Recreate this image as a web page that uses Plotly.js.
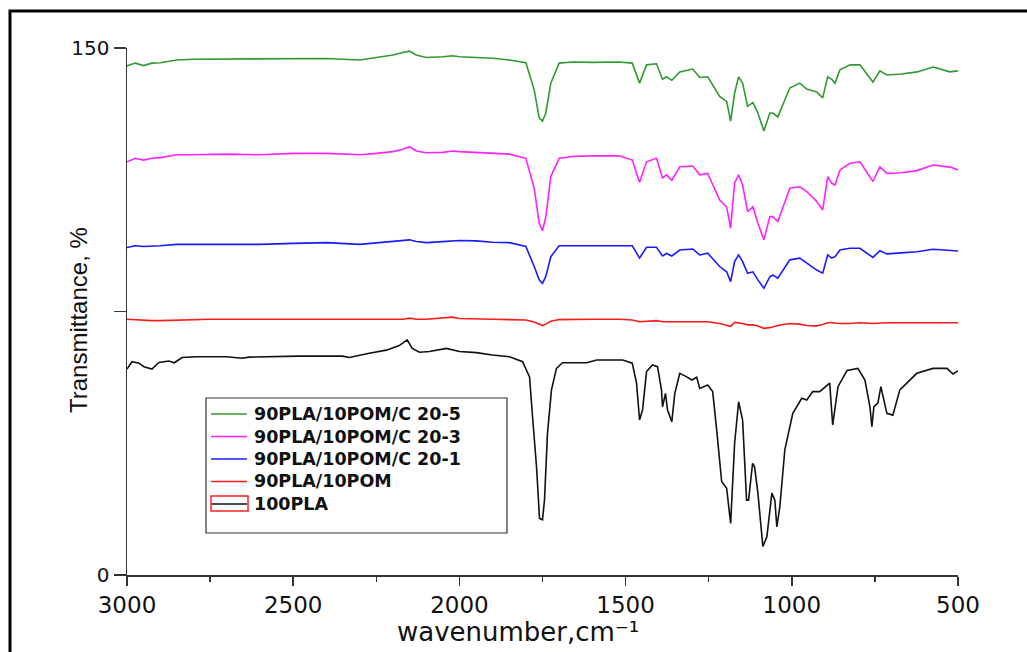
<!DOCTYPE html>
<html>
<head>
<meta charset="utf-8">
<script src="https://cdn.plot.ly/plotly-3.0.1.min.js"></script>
<style>
html,body{margin:0;padding:0;background:#fff;}
#chart{width:1027px;height:652px;}
</style>
</head>
<body>
<div id="chart"></div>
<script>
// Shared wavenumber grid (cm^-1) for the four blend spectra
const wavenumber = [3000,2975,2950,2925,2900,2850,2800,2750,2700,2600,2500,2400,2300,2250,2200,2170,2150,2130,2100,2050,2020,2000,1950,1900,1850,1800,1775,1760,1750,1740,1725,1700,1660,1600,1520,1480,1458,1437,1407,1389,1377,1361,1337,1298,1277,1253,1217,1196,1184,1172,1160,1148,1133,1117,1102,1084,1066,1057,1042,1006,976,955,925,907,892,880,870,855,825,795,756,735,714,670,623,575,524,500];

const pomC20_5 = [144.9,145.7,145.0,145.7,145.8,146.6,146.8,146.8,146.8,146.8,146.8,147.0,146.6,147.2,148.0,148.7,149.1,148.0,147.3,147.5,147.8,147.5,147.4,147.1,146.6,145.8,138.1,130.1,129.2,131.5,140.0,145.7,146.0,145.9,146.0,145.7,140.0,145.2,145.5,141.1,141.8,140.8,143.2,144.0,141.6,141.8,136.2,134.8,129.2,137.2,141.8,140.0,133.4,134.5,131.5,126.4,131.5,131.5,130.4,138.6,140.0,138.3,137.5,135.8,141.8,141.1,140.0,143.8,145.2,145.2,140.3,143.5,142.3,142.6,143.2,144.6,143.2,143.5];

const pomC20_3 = [117.6,118.6,118.1,118.6,118.8,119.6,119.6,119.8,119.8,119.6,120.0,120.0,119.6,120.0,120.5,121.2,121.9,120.7,120.2,120.3,120.7,120.5,120.3,120.0,119.8,118.6,110.0,100.2,98.0,101.9,113.4,118.6,119.1,119.3,119.3,118.1,111.8,117.6,118.6,113.0,113.9,112.4,116.2,116.4,113.9,114.3,106.7,104.8,98.7,111.6,113.9,111.0,103.4,104.8,100.1,95.4,102.0,102.0,100.6,110.1,110.5,109.1,106.3,103.9,113.4,111.5,111.0,115.3,117.2,117.6,112.0,116.2,114.3,114.5,115.1,116.7,116.1,115.3];

const pomC20_1 = [93.2,93.7,93.5,93.5,93.7,94.1,94.1,94.3,94.1,94.1,94.4,94.6,94.1,94.6,94.9,95.4,95.4,94.9,94.6,94.9,95.2,95.2,95.1,94.7,94.6,93.5,87.8,84.0,83.0,85.0,90.6,93.7,93.7,93.7,93.7,93.7,90.2,93.3,93.3,90.8,91.5,90.8,92.5,92.8,91.1,91.6,87.8,86.3,83.5,89.2,91.1,89.2,85.9,86.3,84.0,81.6,84.9,85.4,84.5,89.7,90.2,88.7,86.8,85.9,91.1,90.2,90.6,92.5,93.0,93.0,90.4,92.3,91.4,91.7,92.0,92.7,92.4,92.2];

const pla90pom10 = [72.8,72.6,72.4,72.4,72.4,72.6,72.8,72.8,72.8,72.8,72.8,72.8,72.8,72.8,72.8,72.8,73.1,72.8,72.8,73.3,73.4,73.0,72.8,72.8,72.7,72.6,72.0,71.3,71.0,71.4,72.2,72.7,72.8,72.8,72.8,72.6,72.1,72.3,72.4,72.1,72.1,72.2,72.0,72.0,72.1,72.1,71.6,71.0,70.8,71.9,71.8,71.6,71.2,71.2,70.9,70.2,70.4,70.7,71.0,71.6,71.4,71.0,70.9,71.3,71.8,71.8,71.7,71.6,71.6,71.8,71.6,71.8,71.8,71.8,71.8,71.8,71.8,71.8];

// Neat PLA spectrum (own wavenumber grid, more detail)
const wavenumberPLA = [3000,2985,2964,2949,2925,2904,2874,2858,2834,2792,2700,2654,2633,2482,2352,2331,2271,2220,2181,2157,2142,2120,2090,2039,2000,1949,1901,1849,1810,1789,1780,1768,1759,1750,1744,1735,1723,1708,1690,1617,1587,1509,1480,1467,1458,1449,1437,1419,1404,1392,1389,1380,1374,1361,1352,1337,1316,1301,1286,1277,1253,1238,1226,1211,1196,1184,1172,1160,1148,1136,1130,1118,1112,1102,1087,1075,1060,1051,1045,1036,1021,997,970,955,937,916,886,880,877,861,834,801,780,765,759,753,741,732,726,714,696,675,624,575,533,515,500];
const pla100 = [58.6,60.7,60.3,59.3,58.6,60.5,60.9,60.4,61.9,62.1,62.1,61.7,62.0,62.3,62.3,61.9,63.1,64.0,65.3,66.9,64.5,63.4,63.6,64.5,63.6,63.3,62.6,62.1,60.7,56.4,45.1,30.8,16.1,15.7,21.3,40.3,52.7,58.8,60.4,60.4,61.2,61.2,60.3,54.6,44.1,47.0,57.9,59.8,59.3,52.7,47.9,51.7,47.0,43.6,51.7,57.4,56.4,55.5,56.3,53.1,54.1,52.2,41.3,26.6,24.7,14.7,37.5,49.3,44.1,21.3,21.3,31.8,30.8,23.3,8.1,10.9,23.3,21.3,13.7,19.4,35.6,46.0,50.3,49.8,52.2,52.2,54.6,44.1,42.7,53.6,58.2,58.8,55.5,47.9,42.2,47.9,48.9,53.6,50.8,46.0,45.5,52.7,57.4,58.8,58.8,57.2,58.1];

const seriesNames = ['90PLA/10POM/C 20-5','90PLA/10POM/C 20-3','90PLA/10POM/C 20-1','90PLA/10POM','100PLA'];
const seriesColors = ['#2f9a2f','#ff22ff','#1a1aff','#ff1a1a','#111111'];
const yTickVals = [0, 150];
const yMinorTickVals = [75];
const xTickVals = [3000, 2500, 2000, 1500, 1000, 500];

// plot area in pixels (for decorations)
const W = 1027, H = 652, L = 127, R = 958, T = 48, B = 575;
const px = x => (x - L) / (R - L);
const py = y => (B - y) / (B - T);

const ys = [pomC20_5, pomC20_3, pomC20_1, pla90pom10];
const traces = ys.map((y, i) => ({
  x: wavenumber, y: y, type: 'scatter', mode: 'lines', name: seriesNames[i],
  line: {color: seriesColors[i], width: 1.6}
}));
traces.push({x: wavenumberPLA, y: pla100, type: 'scatter', mode: 'lines', name: seriesNames[4],
  line: {color: seriesColors[4], width: 1.6}});

// legend box drawn as layout decorations
const legTop = 398, legLeft = 206, legRight = 507, legBottom = 533;
const legRow0 = 414, legRowStep = 22.5;
const shapes = [
  {type: 'rect', xref: 'paper', yref: 'paper', x0: px(10), x1: px(1035), y0: py(660), y1: py(11),
   line: {color: '#000', width: 3}, fillcolor: 'rgba(0,0,0,0)'},
  {type: 'rect', xref: 'paper', yref: 'paper', x0: px(legLeft), x1: px(legRight), y0: py(legBottom), y1: py(legTop),
   line: {color: '#333', width: 1.2}, fillcolor: 'rgba(0,0,0,0)'}
];
const annotations = [
  {text: 'Transmittance, %', xref: 'paper', yref: 'paper', x: px(78), y: py(320), textangle: -90,
   xanchor: 'center', yanchor: 'middle', showarrow: false,
   font: {family: 'Liberation Sans, Arial', size: 24, color: '#111'}},
  {text: 'wavenumber,cm\u207B\u00B9', xref: 'paper', yref: 'paper', x: px(518), y: py(632),
   xanchor: 'center', yanchor: 'middle', showarrow: false,
   font: {family: 'DejaVu Sans', size: 26, color: '#111'}}
];
seriesNames.forEach((name, i) => {
  const yc = legRow0 + i * legRowStep;
  shapes.push({type: 'line', xref: 'paper', yref: 'paper', x0: px(211), x1: px(247), y0: py(yc), y1: py(yc),
    line: {color: seriesColors[i], width: 1.6}});
  annotations.push({text: name, xref: 'paper', yref: 'paper', x: px(252), y: py(yc),
    xanchor: 'left', yanchor: 'middle', showarrow: false,
    font: {family: 'DejaVu Sans', size: 17.5, weight: 'bold', color: '#111'}});
});
// red outline box around the 100PLA legend sample (as in the original)
shapes.push({type: 'rect', xref: 'paper', yref: 'paper', x0: px(211), x1: px(248),
  y0: py(legRow0 + 4 * legRowStep + 7), y1: py(legRow0 + 4 * legRowStep - 8),
  line: {color: '#ff2020', width: 1.5}, fillcolor: 'rgba(0,0,0,0)'});

const layout = {
  width: W, height: H,
  margin: {l: L, r: W - R, t: T, b: H - B},
  paper_bgcolor: '#ffffff', plot_bgcolor: '#ffffff',
  showlegend: false,
  xaxis: {
    range: [3000, 500], tickvals: xTickVals, ticks: 'outside', ticklen: 9, tickwidth: 1.5,
    tickcolor: '#333', showline: true, linecolor: '#333', linewidth: 1.5,
    showgrid: false, zeroline: false,
    tickfont: {family: 'DejaVu Sans', size: 23, color: '#111'},
    minor: {dtick: 250, tick0: 0, ticks: 'outside', ticklen: 5, tickwidth: 1.5, tickcolor: '#333', showgrid: false}
  },
  yaxis: {
    range: [0, 150], tickvals: yTickVals, ticks: 'outside', ticklen: 12, tickwidth: 1.5,
    tickcolor: '#333', showline: true, linecolor: '#333', linewidth: 1.5,
    showgrid: false, zeroline: false,
    tickfont: {family: 'DejaVu Sans', size: 20, color: '#111'},
    minor: {tickvals: yMinorTickVals, ticks: 'outside', ticklen: 12, tickwidth: 1.5, tickcolor: '#333', showgrid: false}
  },
  annotations: annotations,
  shapes: shapes
};

Plotly.newPlot('chart', traces, layout, {displayModeBar: false, staticPlot: true});
</script>
</body>
</html>
